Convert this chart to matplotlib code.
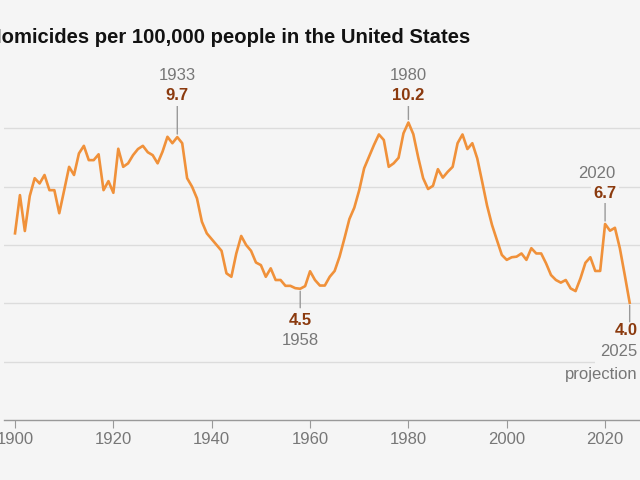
import matplotlib.pyplot as plt

# homicide rate, per 100,000 people
years = list(range(1900, 2026))
rates = [6.40, 7.71, 6.48, 7.68, 8.29, 8.11, 8.40, 7.88, 7.88, 7.09,   # 1900s
         7.88, 8.68, 8.40, 9.14, 9.40, 8.91, 8.91, 9.11, 7.88, 8.19,   # 1910s
         7.79, 9.30, 8.68, 8.80, 9.08, 9.29, 9.40, 9.18, 9.08, 8.80,   # 1920s
         9.20, 9.71, 9.49, 9.70, 9.49, 8.29, 8.00, 7.60, 6.80, 6.40,   # 1930s
         6.20, 6.00, 5.80, 5.03, 4.91, 5.71, 6.31, 6.00, 5.80, 5.40,   # 1940s
         5.31, 4.91, 5.20, 4.80, 4.80, 4.60, 4.60, 4.52, 4.50, 4.59,   # 1950s
         5.10, 4.80, 4.61, 4.61, 4.91, 5.11, 5.60, 6.23, 6.89, 7.28,   # 1960s
         7.88, 8.63, 9.03, 9.43, 9.79, 9.60, 8.68, 8.80, 8.99, 9.83,   # 1970s
         10.2, 9.80, 9.00, 8.29, 7.92, 8.03, 8.60, 8.31, 8.51, 8.68,   # 1980s
         9.49, 9.79, 9.29, 9.49, 8.97, 8.17, 7.35, 6.69, 6.17, 5.66,   # 1990s
         5.49, 5.58, 5.60, 5.71, 5.49, 5.89, 5.71, 5.71, 5.37, 4.97,   # 2000s
         4.80, 4.71, 4.80, 4.51, 4.42, 4.86, 5.39, 5.58, 5.11, 5.11,   # 2010s
         6.72, 6.49, 6.59, 5.89, 4.97, 4.02]                           # 2020s

x_ticks = [1900, 1920, 1940, 1960, 1980, 2000, 2020]
grid_vals = [2, 4, 6, 8, 10]

# labelled points: year, text shown for the value, year text, where the label sits
callouts = [(1933, "9.7", "1933", "top"),
            (1958, "4.5", "1958", "bottom"),
            (1980, "10.2", "1980", "top"),
            (2020, "6.7", "2020", "top"),
            (2025, "4.0", "2025", "bottom")]

bg = "#f5f5f5"
orange = "#f0913a"
brown = "#8b3a0e"
gray = "#777777"
plt.rcParams['font.family'] = ['Liberation Sans', 'DejaVu Sans']

fig = plt.figure(figsize=(6.4, 4.8), dpi=100, facecolor=bg)
ax = fig.add_axes([4 / 640, 60 / 480, 636 / 640, 420 / 480])
ax.set_facecolor(bg)
ax.set_xlim(1897.76, 2027.1)
ax.set_ylim(0, 14.4)

for g in grid_vals:
    ax.axhline(g, color="#dcdcdc", lw=1, zorder=1)
ax.plot(years, rates, color=orange, lw=1.9, zorder=3, solid_joinstyle='round',
        clip_on=False)

for s in ["top", "right", "left"]:
    ax.spines[s].set_visible(False)
ax.spines["bottom"].set_color("#999999")
ax.spines["bottom"].set_linewidth(1)
ax.set_yticks([])
ax.set_xticks(x_ticks)
ax.tick_params(axis='x', direction='out', length=5.5, width=0.8, color="#999999",
               labelcolor=gray, labelsize=12, pad=3)

px = 0.72  # pixels -> points
label_top = 95.5  # pixel row of the value labels above the peaks
for yr, vtxt, ytxt, side in callouts:
    val = rates[years.index(yr)]
    if side == "top":
        if yr == 2020:
            d = 31
        else:
            d = (420 - val * 29.17) - label_top
        ax.annotate("", xy=(yr, val), xytext=(0, (d - 10) * px), textcoords='offset points',
                    xycoords='data',
                    arrowprops=dict(arrowstyle='-', color="#999999", lw=1,
                                    shrinkA=0, shrinkB=3 * px))
        ax.annotate(vtxt, (yr, val), xytext=(0, d * px), textcoords='offset points',
                    ha='center', va='center', color=brown, fontsize=12, fontweight='bold',
                    bbox=dict(boxstyle='square,pad=0.15', fc=bg, ec='none'), zorder=5)
        dx = -8 if yr == 2020 else 0
        ax.annotate(ytxt, (yr, val), xytext=(dx * px, (d + 20) * px), textcoords='offset points',
                    ha='center', va='center', color=gray, fontsize=12, zorder=5)
    else:
        ax.annotate("", xy=(yr, val), xytext=(0, -19 * px), textcoords='offset points',
                    arrowprops=dict(arrowstyle='-', color="#999999", lw=1,
                                    shrinkA=0, shrinkB=2.5 * px))
        if yr == 2025:
            ax.annotate(vtxt, (yr, val), xytext=(8 * px, -28 * px), textcoords='offset points',
                        ha='right', va='center', color=brown, fontsize=12, fontweight='bold',
                        zorder=5)
            ax.annotate(ytxt, (yr, val), xytext=(8 * px, -49 * px), textcoords='offset points',
                        ha='right', va='center', color=gray, fontsize=12,
                        bbox=dict(boxstyle='square,pad=0.35', fc=bg, ec='none'), zorder=5)
            ax.annotate("projection", (yr, val), xytext=(8 * px, -72 * px),
                        textcoords='offset points', ha='right', va='center', color=gray,
                        fontsize=12, zorder=6)
        else:
            ax.annotate(vtxt, (yr, val), xytext=(0, -32 * px), textcoords='offset points',
                        ha='center', va='center', color=brown, fontsize=12, fontweight='bold',
                        zorder=5)
            ax.annotate(ytxt, (yr, val), xytext=(0, -52 * px), textcoords='offset points',
                        ha='center', va='center', color=gray, fontsize=12, zorder=5)

fig.text(470.7 / 640, 1 - 43.3 / 480, "Homicides per 100,000 people in the United States",
         ha='right', va='baseline', fontsize=14.6, fontweight='bold', color="#121212")

fig.savefig("out.png", dpi=100, facecolor=bg)
